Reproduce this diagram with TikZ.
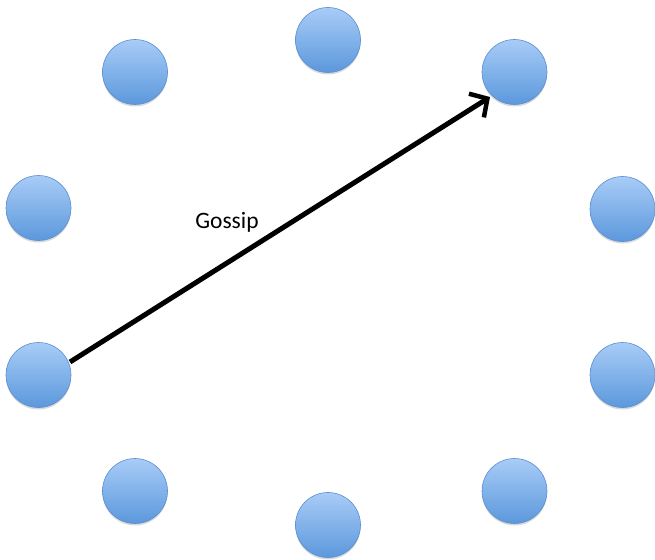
\documentclass[tikz,border=0pt]{standalone}
\usepackage{fontspec}
\setmainfont{Carlito}
\usetikzlibrary{arrows.meta,shadows}
\definecolor{ctop}{HTML}{A8CCF7}
\definecolor{cbot}{HTML}{5C98DC}
\definecolor{cline}{HTML}{5A8ED0}
\tikzset{
  ball/.style={circle, minimum size=65pt, inner sep=0pt, draw=cline, line width=0.6pt,
    top color=ctop, bottom color=cbot,
    drop shadow={opacity=0.3, shadow xshift=0pt, shadow yshift=-2pt}},
  gossiparrow/.style={line width=5pt, -{Straight Barb[length=13pt,width=28pt,line width=4.5pt]}},
  lbl/.style={font=\fontsize{23.5}{28}\selectfont, inner sep=0pt}
}
\begin{document}
\begin{tikzpicture}[x=1pt,y=-1pt]
\useasboundingbox (0,0) rectangle (655,559);
\node[ball] (n1) at (328,40) {};
\node[ball] (n2) at (514.5,72) {};
\node[ball] (n3) at (622.5,209) {};
\node[ball] (n4) at (622.5,375) {};
\node[ball] (n5) at (514.5,491) {};
\node[ball] (n6) at (328,525) {};
\node[ball] (n7) at (135,491) {};
\node[ball] (n8) at (38.5,375) {};
\node[ball] (n9) at (38.5,208) {};
\node[ball] (n10) at (135,72) {};
\coordinate (s) at (70,362);
\coordinate (t) at (490,97);
\draw[gossiparrow] (s) -- (t);
\node[lbl] (g) at (227,222) {Gossip};
\end{tikzpicture}
\end{document}
